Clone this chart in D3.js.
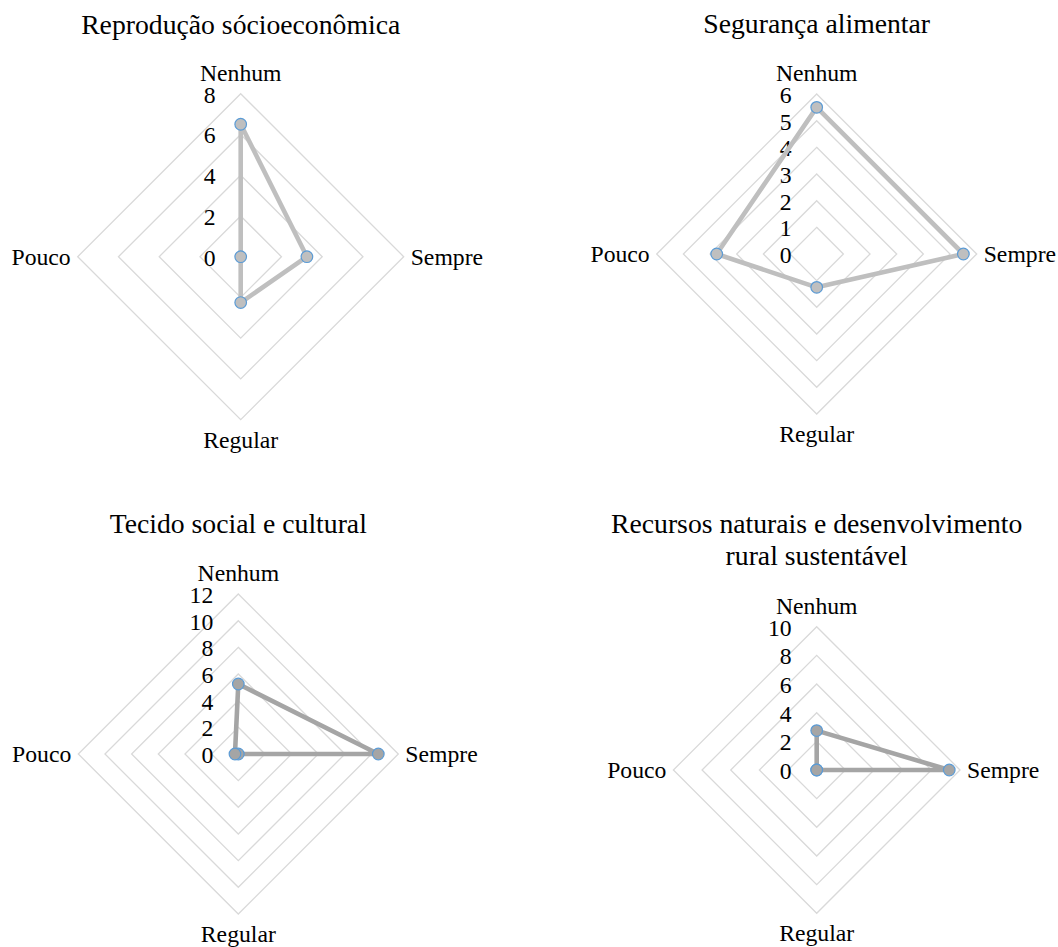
<!DOCTYPE html>
<html>
<head>
<meta charset="utf-8">
<script src="https://cdn.jsdelivr.net/npm/d3@7"></script>
<style>
    body { margin: 0; background: #fff; }
    svg text { font-family: "Liberation Serif", "Times New Roman", serif; fill: #000; }
</style>
</head>
<body>
<div id="chart"></div>
<script>
// Categories (clockwise from the top)
const categories = ['Nenhum', 'Sempre', 'Regular', 'Pouco'];

// Chart titles
const titleReproducao = ['Reprodução sócioeconômica'];
const titleSeguranca = ['Segurança alimentar'];
const titleTecido = ['Tecido social e cultural'];
const titleRecursos = ['Recursos naturais e desenvolvimento', 'rural sustentável'];

// Series values
const valuesReproducao = [6.5, 3.25, 2.25, 0];
const valuesSeguranca = [5.5, 5.5, 1.25, 3.75];
const valuesTecido = [5.25, 10.5, 0, 0.25];
const valuesRecursos = [2.75, 9.25, 0, 0];

// Tick labels
const ticksReproducao = [0, 2, 4, 6, 8];
const ticksSeguranca = [0, 1, 2, 3, 4, 5, 6];
const ticksTecido = [0, 2, 4, 6, 8, 10, 12];
const ticksRecursos = [0, 2, 4, 6, 8, 10];

const object = {
    drawRadar: function (svg, opts) {
        const g = svg.append('g')
            .attr('transform', `translate(${opts.cx},${opts.cy})`);

        const maxTick = d3.max(opts.ticks);

        // Radial scale
        const r = d3.scaleLinear()
            .domain([0, maxTick])
            .range([0, opts.radius]);

        // Angle for each category
        const angle = d3.scalePoint()
            .domain(categories)
            .range([0, 2 * Math.PI * (categories.length - 1) / categories.length]);

        const radial = d3.lineRadial()
            .angle(d => angle(d.cat))
            .radius(d => r(d.value))
            .curve(d3.curveLinearClosed);

        // Grid rings
        g.append('g')
            .attr('class', 'grid')
            .selectAll('path')
            .data(opts.ticks.filter(t => t > 0))
            .join('path')
            .attr('d', t => radial(categories.map(c => ({ cat: c, value: t }))))
            .attr('fill', 'none')
            .attr('stroke', '#d9d9d9')
            .attr('stroke-width', 1.3);

        // Tick labels
        g.append('g')
            .attr('class', 'ticks')
            .selectAll('text')
            .data(opts.ticks)
            .join('text')
            .attr('x', -25)
            .attr('y', t => -r(t) + 9)
            .attr('text-anchor', 'end')
            .attr('font-size', 23.7)
            .text(t => t);

        // Category labels
        const pos = c => {
            const a = angle(c);
            return [Math.sin(a) * opts.radius, -Math.cos(a) * opts.radius];
        };
        g.append('g')
            .attr('class', 'categories')
            .selectAll('text')
            .data(categories)
            .join('text')
            .attr('font-size', 23.7)
            .attr('text-anchor', c => {
                const [x] = pos(c);
                return Math.abs(x) < 1 ? 'middle' : (x > 0 ? 'start' : 'end');
            })
            .attr('x', c => {
                const [x] = pos(c);
                return Math.abs(x) < 1 ? 0 : (x > 0 ? x + 7 : x - 7);
            })
            .attr('y', c => {
                const [, y] = pos(c);
                if (Math.abs(y) < 1) return 8;
                return y < 0 ? y - 12.6 : y + 28;
            })
            .text(c => c);

        // Series line
        const points = categories.map((c, i) => ({ cat: c, value: opts.values[i] }));
        g.append('path')
            .attr('class', 'series')
            .attr('d', radial(points))
            .attr('fill', 'none')
            .attr('stroke', opts.color)
            .attr('stroke-width', 4.6)
            .attr('stroke-linejoin', 'round');

        // Markers
        g.append('g')
            .attr('class', 'markers')
            .selectAll('circle')
            .data(points)
            .join('circle')
            .attr('cx', d => Math.sin(angle(d.cat)) * r(d.value))
            .attr('cy', d => -Math.cos(angle(d.cat)) * r(d.value))
            .attr('r', 5.8)
            .attr('fill', opts.color)
            .attr('stroke', '#5b9bd5')
            .attr('stroke-width', 1.2);

        // Title
        svg.append('g')
            .attr('class', 'title')
            .selectAll('text')
            .data(opts.title)
            .join('text')
            .attr('x', opts.cx)
            .attr('y', (d, i) => opts.titleY + i * 32)
            .attr('text-anchor', 'middle')
            .attr('font-size', 27.7)
            .text(d => d);
    }
};

const svg = d3.select('#chart')
    .append('svg')
    .attr('width', 1058)
    .attr('height', 947);

object.drawRadar(svg, {
    title: titleReproducao, values: valuesReproducao, ticks: ticksReproducao,
    cx: 240.7, cy: 256.7, radius: 163, titleY: 34, color: '#bfbfbf'
});
object.drawRadar(svg, {
    title: titleSeguranca, values: valuesSeguranca, ticks: ticksSeguranca,
    cx: 816.7, cy: 254, radius: 160, titleY: 33.3, color: '#bfbfbf'
});
object.drawRadar(svg, {
    title: titleTecido, values: valuesTecido, ticks: ticksTecido,
    cx: 238.3, cy: 754, radius: 160, titleY: 533, color: '#a5a5a5'
});
object.drawRadar(svg, {
    title: titleRecursos, values: valuesRecursos, ticks: ticksRecursos,
    cx: 816.7, cy: 770, radius: 143.3, titleY: 533, color: '#a5a5a5'
});
</script>
</body>
</html>
